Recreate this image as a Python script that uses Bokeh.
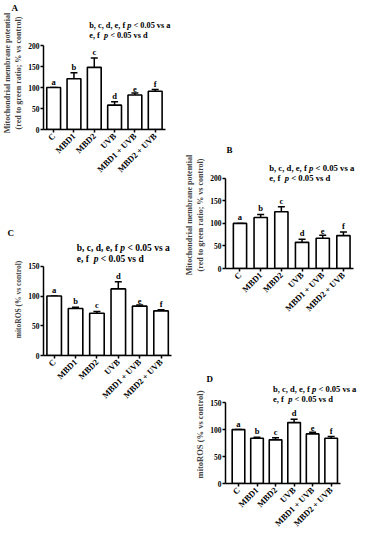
import math
from bokeh.plotting import figure
from bokeh.models import (Label, Whisker, TeeHead, ColumnDataSource, Range1d,
                          FixedTicker, Spacer, CustomJSTickFormatter, Title)
from bokeh.layouts import row, column
from bokeh.embed import file_html
from bokeh.resources import INLINE

# ---------------- data ----------------
categories = ["C", "MBD1", "MBD2", "UVB", "MBD1 + UVB", "MBD2 + UVB"]
letters = ["a", "b", "c", "d", "e", "f"]

a_values = [100, 121, 148, 58, 82, 91]
a_errors = [0, 14, 22, 8, 5, 4]

b_values = [100, 113, 126, 58, 67, 73]
b_errors = [0, 7, 11, 7, 7, 8]

c_values = [100, 79, 71, 112, 83, 75]
c_errors = [0, 2, 3, 12, 2, 2]

d_values = [100, 84, 81, 113, 92, 84]
d_errors = [0, 2, 4, 6, 3, 3]

mmp_ticks = [0, 50, 100, 150, 200]
ros_ticks = [0, 50, 100, 150]

mmp_label = "Mitochondrial membrane potential\n(red to green ratio; % vs control)"
ros_label = "mitoROS (% vs control)"

# (text, italic?, gap-after in em)
note_line_1 = [("b, c, d, e, f", False, 0.25), ("p", True, 0.25), ("< 0.05 vs a", False, 0)]
note_line_2 = [("e, f", False, 0.5), ("p", True, 0.25), ("< 0.05 vs d", False, 0)]

FONT = "Liberation Serif"

# approximate Times-Bold advance widths (em)
_W = {"b": .556, "c": .444, "d": .556, "e": .444, "f": .333, ",": .25, " ": .25,
      "p": .5}


def seg_width(s, fs):
    return sum(_W.get(ch, .5) for ch in s) * fs


def panel(box, frame, x0, values, errors, ticks, ylabel, ylabel_fs, tag, tag_dx,
          tag_standoff, top_border, note_pos, note_fs, bar_w=0.68):
    fig_left, fig_top, W, H = box
    fl, fr, y0, ytop = frame          # frame-left px, x-axis end px, y=0 px, top tick px
    n = len(categories)
    top_val = ticks[-1]
    sx = (fr - fl) / (n - x0)
    sy = (y0 - ytop) / top_val
    frame_top = fig_top + top_border
    y_end = (y0 - frame_top) / sy
    x_end = x0 + (fig_left + W - fl) / sx

    def X(px):
        return x0 + (px - fl) / sx

    def Y(py):
        return (y0 - py) / sy

    p = figure(width=W, height=H,
               x_range=Range1d(x0, x_end), y_range=Range1d(0, y_end),
               output_backend="svg", toolbar_location=None,
               min_border_left=fl - fig_left, min_border_right=0,
               min_border_top=top_border, min_border_bottom=fig_top + H - y0)
    p.outline_line_color = None
    p.xgrid.visible = False
    p.ygrid.visible = False
    p.background_fill_color = "white"
    p.border_fill_color = "white"

    # panel tag as a title (titles are not clipped to the frame)
    t = Title(text=tag, align="left", vertical_align="top", standoff=tag_standoff,
              offset=tag_dx - (fl - fig_left),
              text_font=FONT, text_font_style="bold", text_font_size="9px",
              text_color="black")
    p.add_layout(t, "above")

    xs = [i + 0.5 for i in range(n)]
    src = ColumnDataSource(dict(
        x=xs, top=values,
        upper=[v + e for v, e in zip(values, errors)],
        lab=letters))

    p.vbar(x="x", top="top", width=bar_w, bottom=0, source=src,
           fill_color="white", line_color="black", line_width=1.6)
    p.add_layout(Whisker(source=src, base="x", lower="top", upper="upper",
                         dimension="height", line_color="black", line_width=1.5,
                         lower_head=None,
                         upper_head=TeeHead(size=7, line_color="black",
                                            line_width=1.5)))
    p.text(x="x", y="upper", text="lab", source=src, text_align="center",
           text_baseline="bottom", y_offset=-1, text_font=FONT,
           text_font_style="bold", text_font_size="8.5px", text_color="black")

    # axes
    for ax in (p.xaxis[0], p.yaxis[0]):
        ax.axis_line_width = 1.5
        ax.axis_line_color = "black"
        ax.major_tick_line_width = 1.5
        ax.major_tick_line_color = "black"
        ax.major_tick_in = 0
        ax.major_tick_out = 3
        ax.minor_tick_line_color = None
        ax.major_label_text_font = FONT
        ax.major_label_text_font_style = "bold"
        ax.major_label_text_color = "black"
    p.yaxis.ticker = FixedTicker(ticks=ticks)
    p.yaxis.bounds = (0, top_val)
    p.yaxis.major_label_text_font_size = "7.5px"
    p.yaxis.major_label_standoff = 1
    p.yaxis.axis_label = ylabel
    p.yaxis.axis_label_text_font = FONT
    p.yaxis.axis_label_text_font_style = "bold"
    p.yaxis.axis_label_text_font_size = f"{ylabel_fs}px"
    p.yaxis.axis_label_standoff = 2

    p.xaxis.ticker = FixedTicker(ticks=xs)
    p.xaxis.formatter = CustomJSTickFormatter(args=dict(cats=categories),
                                              code="return cats[Math.floor(tick)];")
    p.xaxis.bounds = (x0, n)
    p.xaxis.major_label_orientation = math.pi / 4
    p.xaxis.major_label_text_font_size = "8.5px"
    p.xaxis.major_label_standoff = 2

    # significance notes
    nx, ny1, ny2 = note_pos
    for line, ny in ((note_line_1, ny1), (note_line_2, ny2)):
        off = 0.0
        for seg, italic, gap in line:
            p.add_layout(Label(x=X(nx), y=Y(ny), x_offset=off, text=seg,
                               text_font=FONT,
                               text_font_style="bold italic" if italic else "bold",
                               text_font_size=f"{note_fs}px",
                               text_baseline="middle", text_align="left",
                               text_color="black"))
            off += seg_width(seg, note_fs) + gap * note_fs
    return p


pA = panel((8, 8, 182, 224), (44, 172, 137, 53), 0, a_values, a_errors, mmp_ticks,
           mmp_label, 8, "A", 4, 4, 16, (92, 33, 43), 8.3)
pC = panel((8, 232, 182, 212), (48, 179, 363, 273), 0, c_values, c_errors, ros_ticks,
           ros_label, 7.5, "C", 4, 7, 18, (82, 255, 266), 9.5)
pB = panel((190, 147, 175, 234), (223, 361, 276, 185), -0.2, b_values, b_errors,
           mmp_ticks, mmp_label, 8, "B", 34, 10, 21, (270, 175, 185), 8.7,
           bar_w=0.64)
pD = panel((190, 381, 175, 161), (218, 346, 495, 410), -0.2, d_values, d_errors,
           ros_ticks, ros_label, 8.5, "D", 9, 0, 11, (271, 396, 406), 8.5)

layout = row(column(pA, pC), column(Spacer(width=175, height=139), pB, pD))

open("out.html", "w").write(file_html(layout, INLINE))
